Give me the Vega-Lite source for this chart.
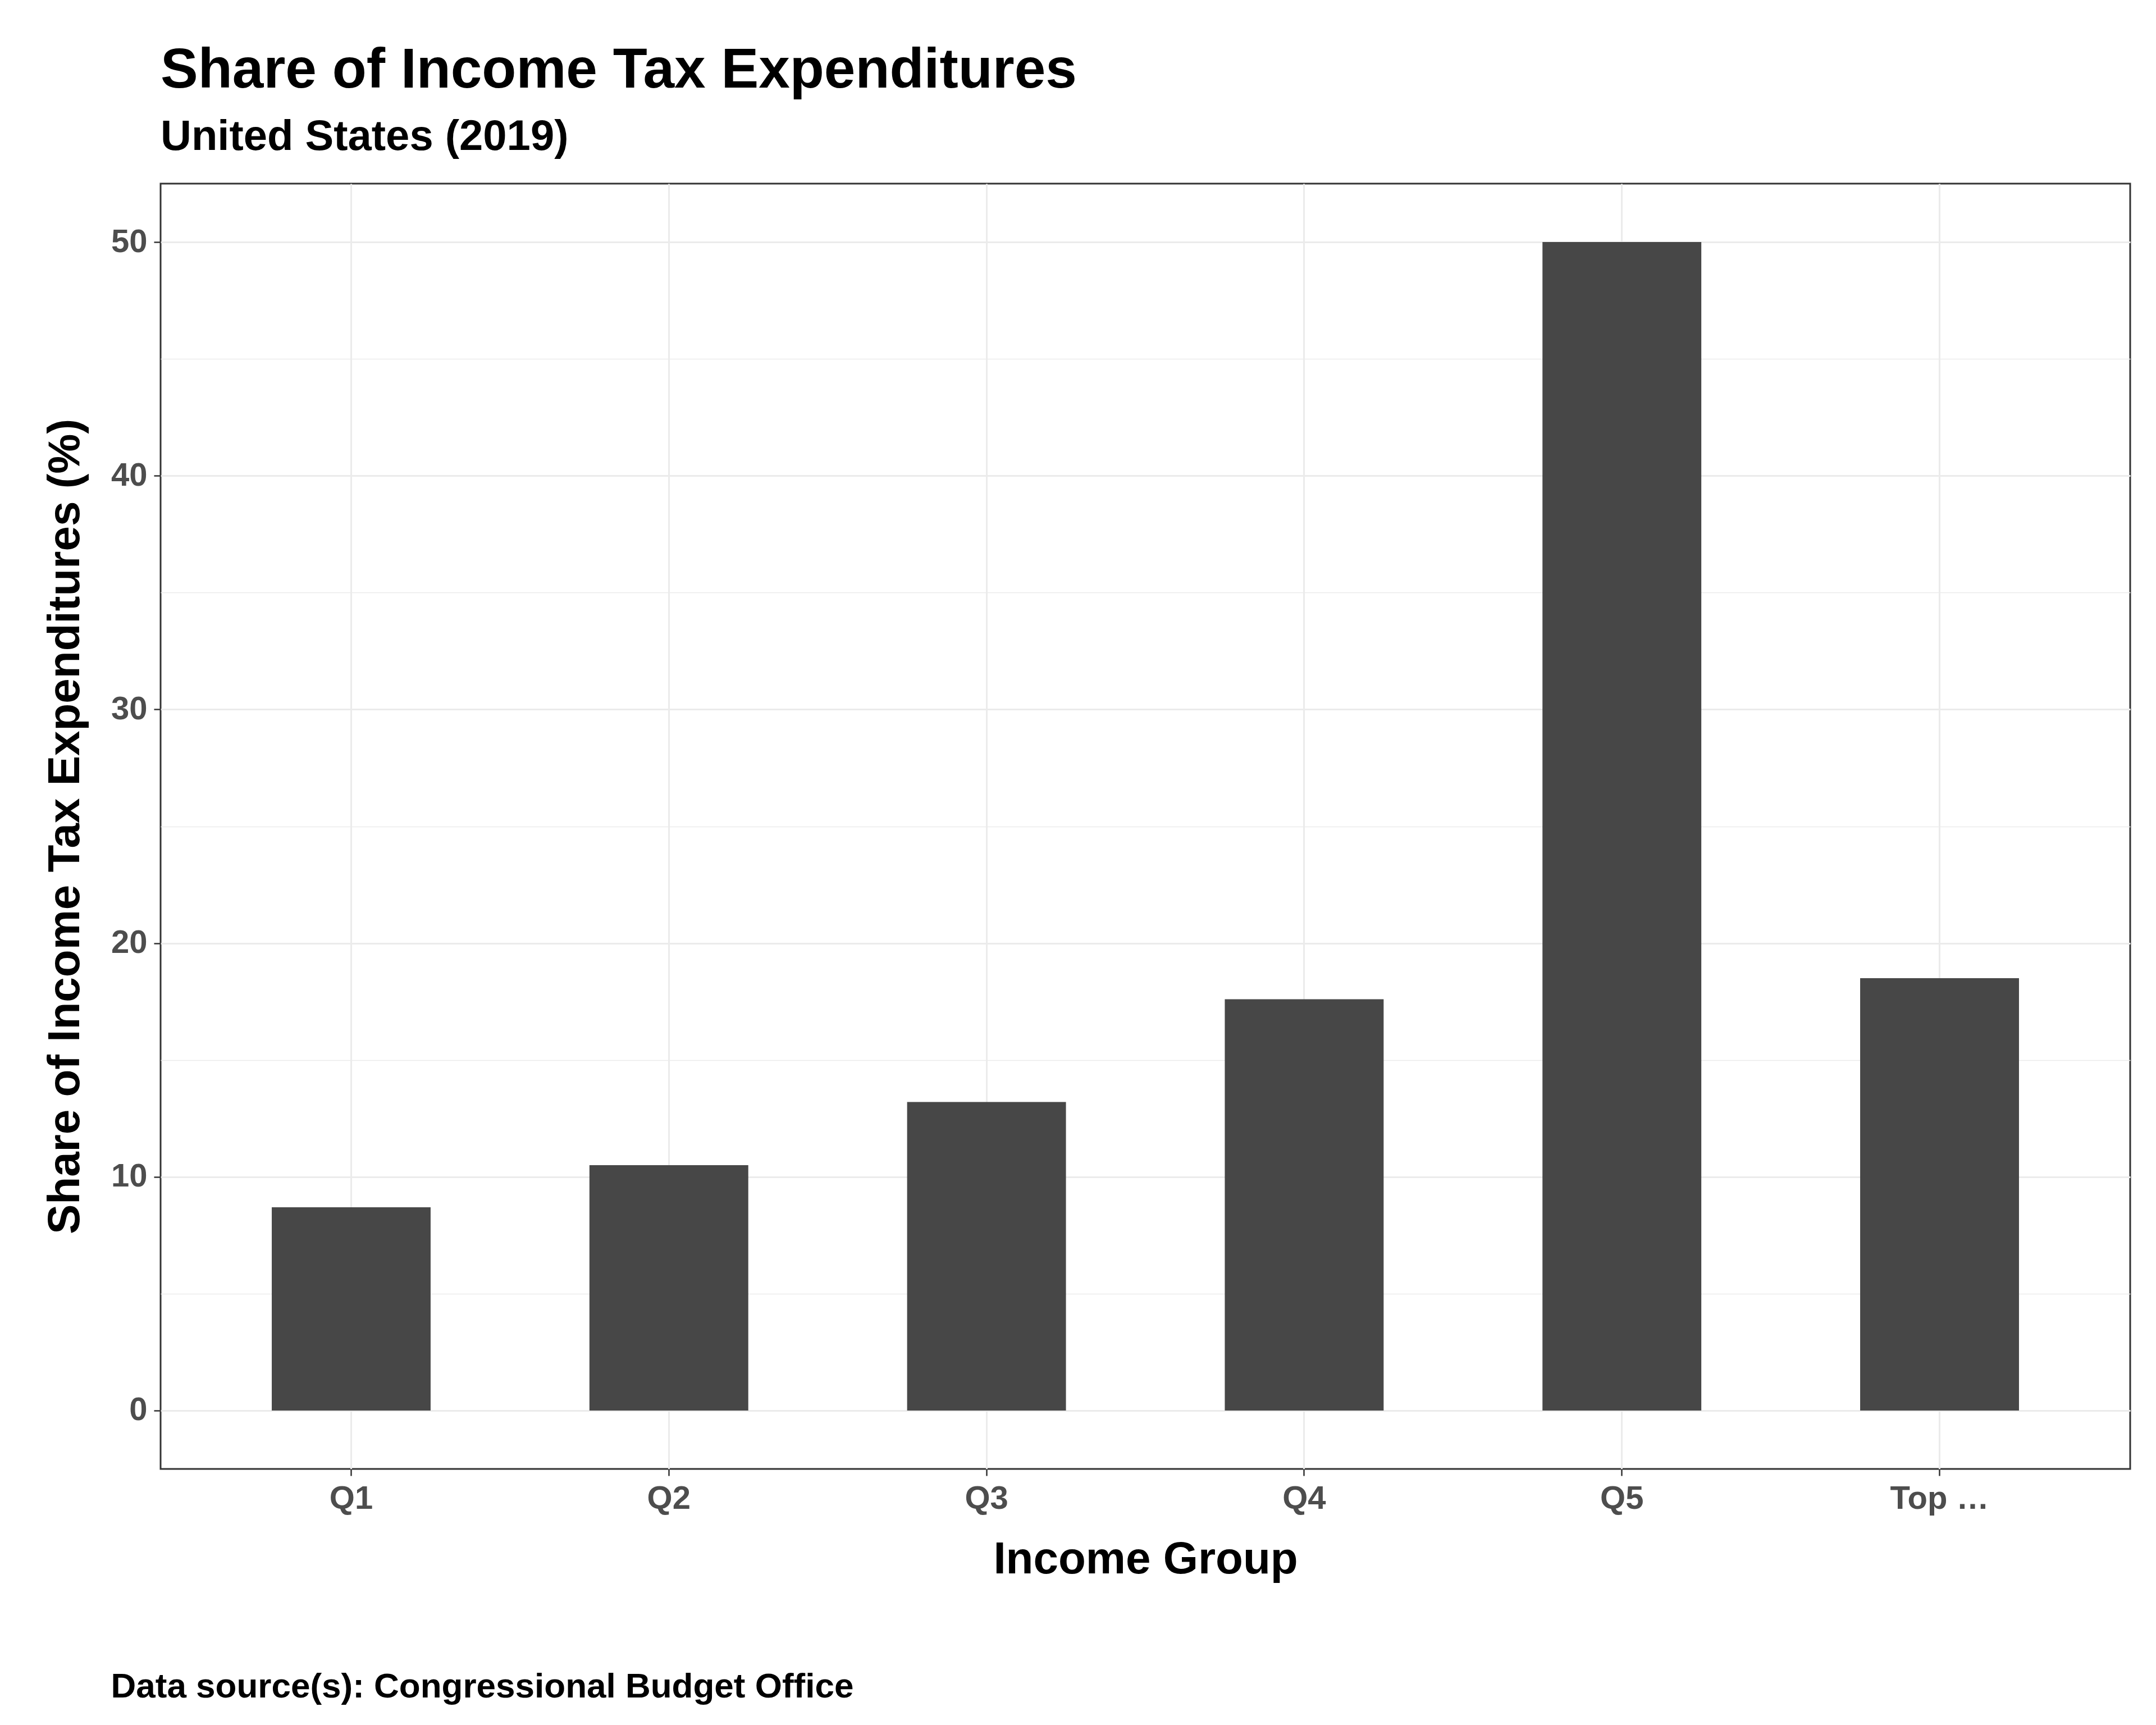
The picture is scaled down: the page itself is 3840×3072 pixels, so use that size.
{
  "$schema": "https://vega.github.io/schema/vega-lite/v6.json",
  "width": 3508,
  "height": 2289,
  "autosize": {"type": "none"},
  "padding": {"left": 286, "top": 327, "right": 46, "bottom": 456},
  "background": "white",
  "title": {
    "text": "Share of Income Tax Expenditures",
    "subtitle": "United States (2019)",
    "anchor": "start",
    "frame": "group",
    "offset": 44,
    "font": "Liberation Sans",
    "fontSize": 100,
    "fontWeight": "bold",
    "color": "black",
    "subtitleFont": "Liberation Sans",
    "subtitleFontSize": 76,
    "subtitleFontWeight": "bold",
    "subtitleColor": "black",
    "subtitlePadding": 30
  },
  "data": {
    "values": [
      {"group": "Q1", "share": 8.7},
      {"group": "Q2", "share": 10.5},
      {"group": "Q3", "share": 13.2},
      {"group": "Q4", "share": 17.6},
      {"group": "Q5", "share": 50.0},
      {"group": "Top 1%", "share": 18.5}
    ]
  },
  "layer": [
    {
      "mark": {"type": "bar", "opacity": 0},
      "encoding": {
        "x": {
          "field": "group", "type": "nominal", "sort": null,
          "axis": {
            "orient": "bottom", "labels": false, "ticks": false, "domain": false, "grid": false,
            "title": "Data source(s): Congressional Budget Office",
            "titleAnchor": "start", "titleAlign": "left", "titleBaseline": "alphabetic",
            "titleX": -89, "titleY": 406,
            "titleFont": "Liberation Sans", "titleFontSize": 62, "titleFontWeight": "bold", "titleColor": "black"
          }
        },
        "y": {
          "field": "share", "type": "quantitative",
          "axis": {
            "orient": "left", "labels": false, "ticks": false, "domain": false, "title": null,
            "values": [5, 15, 25, 35, 45], "grid": true, "gridColor": "#EBEBEB", "gridWidth": 1.5
          }
        }
      }
    },
    {
      "mark": {"type": "bar", "color": "#474747"},
      "encoding": {
        "x": {
          "field": "group", "type": "nominal", "sort": null,
          "scale": {"paddingInner": 0.5, "paddingOuter": 0.35},
          "axis": {
            "orient": "bottom", "labelAngle": 0, "domain": false, "bandPosition": 0.5,
            "grid": true, "gridColor": "#EBEBEB", "gridWidth": 3,
            "tickColor": "#333333", "tickWidth": 2.5, "tickSize": 12,
            "labelFont": "Liberation Sans", "labelFontSize": 58, "labelFontWeight": "bold",
            "labelColor": "#4D4D4D", "labelPadding": 12,
            "title": "Income Group", "titleFont": "Liberation Sans", "titleFontSize": 80,
            "titleFontWeight": "bold", "titleColor": "black", "titlePadding": 40
          }
        },
        "y": {
          "field": "share", "type": "quantitative",
          "scale": {"domain": [-2.5, 52.5], "nice": false, "zero": false},
          "axis": {
            "orient": "left", "values": [0, 10, 20, 30, 40, 50], "domain": false,
            "grid": true, "gridColor": "#EBEBEB", "gridWidth": 3,
            "tickColor": "#333333", "tickWidth": 2.5, "tickSize": 12,
            "labelFont": "Liberation Sans", "labelFontSize": 58, "labelFontWeight": "bold",
            "labelColor": "#4D4D4D", "labelPadding": 12,
            "title": "Share of Income Tax Expenditures (%)", "titleFont": "Liberation Sans",
            "titleFontSize": 80, "titleFontWeight": "bold", "titleColor": "black", "titlePadding": 40
          }
        }
      }
    }
  ],
  "resolve": {"axis": {"x": "independent", "y": "independent"}},
  "config": {
    "view": {"stroke": "#333333", "strokeWidth": 3}
  }
}
